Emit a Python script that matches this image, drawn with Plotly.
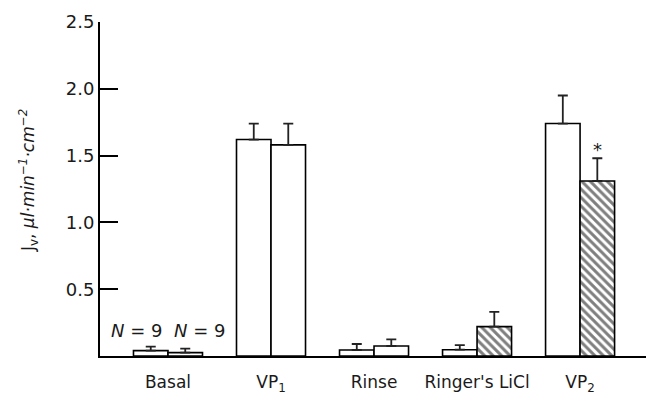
import plotly.graph_objects as go

# Fluid flow (Jv) per experimental period, two paired series
periods = ["Basal", "VP<sub>1</sub>", "Rinse", "Ringer's LiCl", "VP<sub>2</sub>"]
control_mean = [0.04, 1.62, 0.045, 0.047, 1.74]
control_sem = [0.03, 0.12, 0.045, 0.035, 0.21]
treated_mean = [0.025, 1.58, 0.075, 0.22, 1.31]
treated_sem = [0.03, 0.16, 0.05, 0.11, 0.17]
hatched = [False, False, False, True, True]
y_ticks = [0.5, 1.0, 1.5, 2.0, 2.5]
n_label = "<i>N</i>\u00a0=\u00a09"

FONT = "DejaVu Sans, Liberation Sans, Arial, sans-serif"
INK = "#1a1a1a"
BARGAP = 0.33
x_pos = list(range(len(periods)))

W, H = 646, 397
ML, MR, MT, MB = 100, 0, 22, 41
pw, ph = W - ML - MR, H - MT - MB

fig = go.Figure()
fig.add_trace(go.Bar(
    x=x_pos, y=control_mean,
    marker=dict(color="white", line=dict(color="black", width=1.6)),
    error_y=dict(type="data", symmetric=False, array=control_sem,
                 arrayminus=[0] * len(periods), color="#222",
                 thickness=1.8, width=5),
    showlegend=False,
))
fig.add_trace(go.Bar(
    x=x_pos, y=treated_mean,
    marker=dict(color="white", line=dict(color="black", width=1.6),
                pattern=dict(shape=["\\" if h else "" for h in hatched],
                             fgcolor="black", bgcolor="white",
                             size=6, solidity=0.5)),
    error_y=dict(type="data", symmetric=False, array=treated_sem,
                 arrayminus=[0] * len(periods), color="#222",
                 thickness=1.8, width=5),
    showlegend=False,
))

bar_w = (1 - BARGAP) / 2

# N labels above the basal pair
for xc in (-0.31, 0.31):
    fig.add_annotation(x=xc, y=0.19, xref="x", yref="y",
                       text=n_label, showarrow=False,
                       font=dict(family=FONT, size=18, color=INK))

# Significance mark over the VP2 treated bar
fig.add_annotation(x=4 + 0.5 * bar_w, y=treated_mean[4] + treated_sem[4],
                   yshift=9, xref="x", yref="y", text="*", showarrow=False,
                   font=dict(family=FONT, size=18, color=INK))

# Y axis title, positioned in pixels
fig.add_annotation(
    x=(28 - ML) / pw, y=(H - MB - 181) / ph, xref="paper", yref="paper",
    xanchor="center", yanchor="middle",
    text="J<sub>v</sub>, <i>μl·min<sup>−1</sup>·cm<sup>−2</sup></i>",
    textangle=-90, showarrow=False,
    font=dict(family=FONT, size=17, color=INK),
)

fig.update_layout(
    width=W, height=H,
    margin=dict(l=ML, r=MR, t=MT, b=MB),
    paper_bgcolor="white", plot_bgcolor="white",
    barmode="group", bargap=BARGAP, bargroupgap=0,
    font=dict(family=FONT, size=17, color=INK),
    xaxis=dict(
        range=[-0.66, 4.64], tickvals=x_pos, ticktext=periods,
        showline=True, linecolor="black", linewidth=2,
        ticks="", showgrid=False, zeroline=False,
        ticklabelstandoff=10,
        tickfont=dict(family=FONT, size=17, color=INK),
    ),
    yaxis=dict(
        range=[0, 2.5], tickvals=y_ticks,
        ticktext=[f"{v:.1f}" for v in y_ticks],
        showline=True, linecolor="black", linewidth=2,
        ticks="inside", ticklen=18, tickwidth=2, tickcolor="black",
        showgrid=False, zeroline=False,
        tickfont=dict(family=FONT, size=18, color=INK),
    ),
)

fig.write_html("out.html")
